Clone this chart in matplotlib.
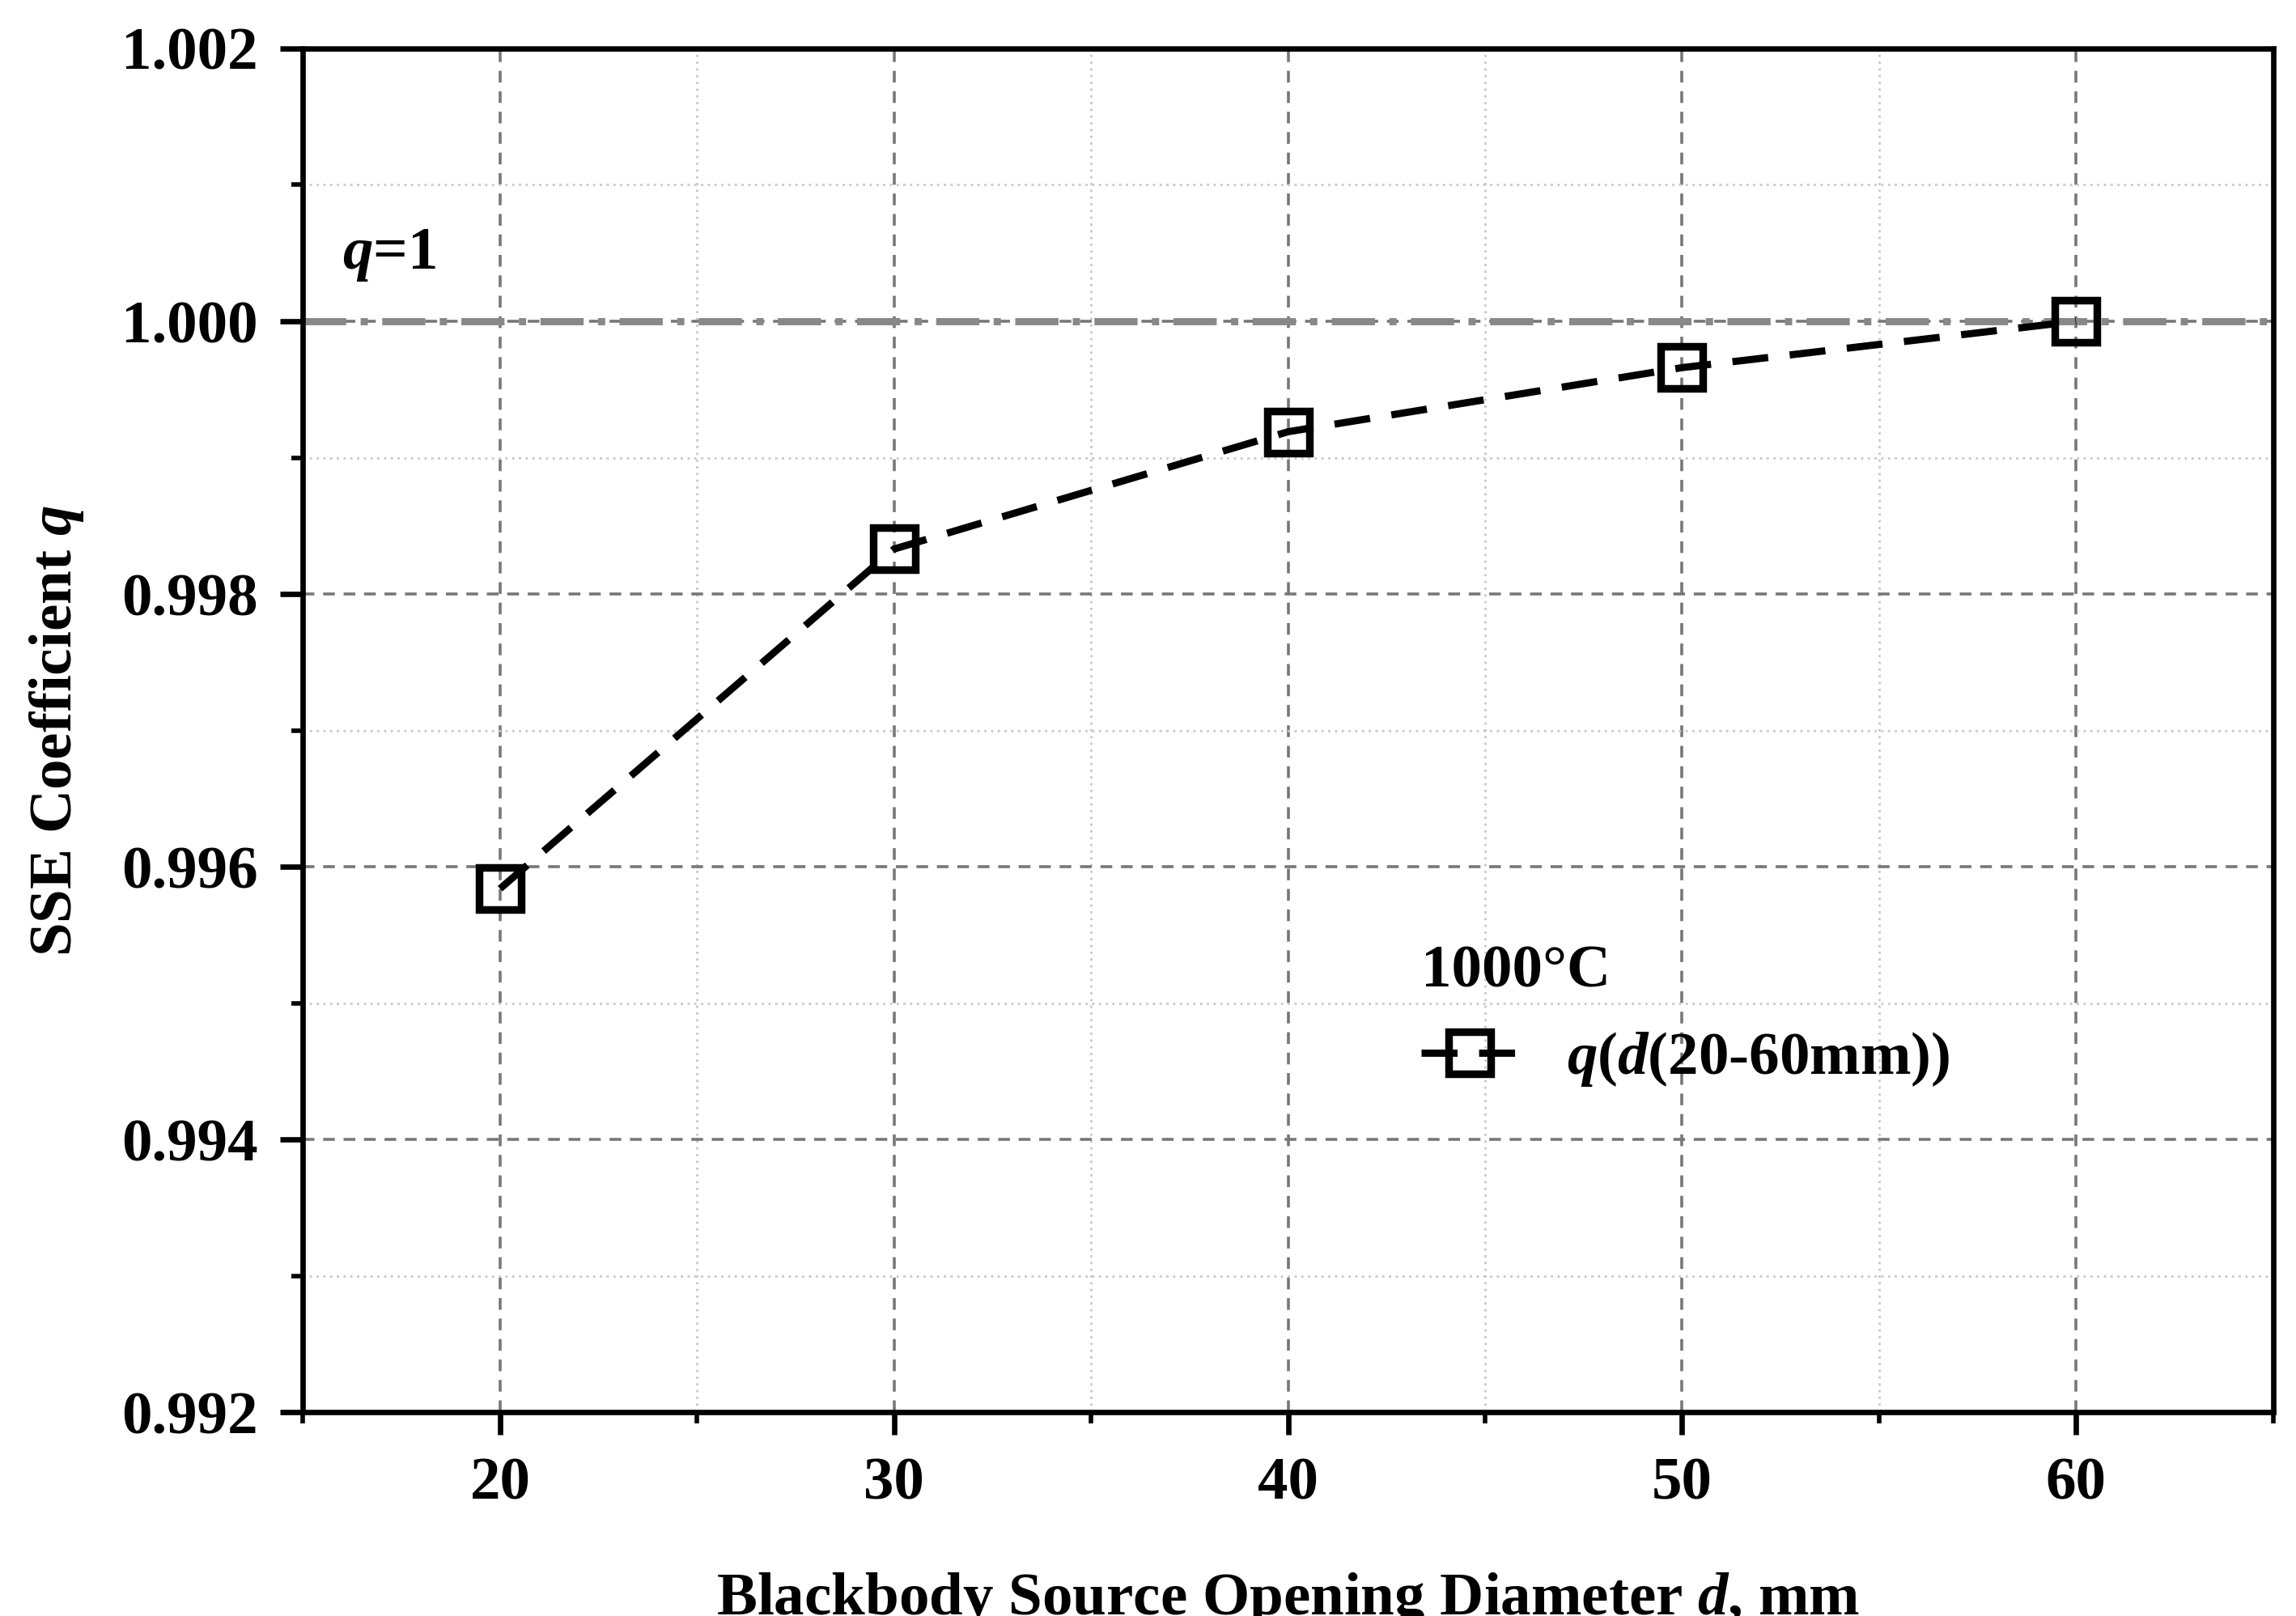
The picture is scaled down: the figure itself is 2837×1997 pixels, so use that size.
import matplotlib
matplotlib.use("Agg")
import matplotlib.pyplot as plt
from matplotlib.ticker import MultipleLocator

d = [20, 30, 40, 50, 60]
q = [0.99584, 0.99833, 0.99919, 0.99966, 1.00000]

plt.rcParams['font.family'] = ['Liberation Serif', 'DejaVu Serif']
plt.rcParams['font.weight'] = 'bold'
plt.rcParams['mathtext.fontset'] = 'custom'
plt.rcParams['mathtext.it'] = 'Liberation Serif:italic:bold'
plt.rcParams['mathtext.rm'] = 'Liberation Serif:bold'

FS = 27
fig = plt.figure(figsize=(14.185, 9.985), dpi=200)
ax = fig.add_axes([0.132, 0.126, 0.858, 0.844])
ax.set_xlim(15, 65)
ax.set_ylim(0.992, 1.002)
ax.xaxis.set_major_locator(MultipleLocator(10))
ax.xaxis.set_minor_locator(MultipleLocator(5))
ax.yaxis.set_major_locator(MultipleLocator(0.002))
ax.yaxis.set_minor_locator(MultipleLocator(0.001))
ax.yaxis.set_major_formatter(matplotlib.ticker.FormatStrFormatter('%.3f'))
ax.grid(which='major', color='#777777', linestyle=(0, (4, 3)), linewidth=1.3)
ax.grid(which='minor', color='#c8c8c8', linestyle=(0, (1, 2)), linewidth=1.0)
ax.set_axisbelow(True)
for s in ax.spines.values():
    s.set_linewidth(2.4)
ax.tick_params(which='major', direction='out', length=10, width=2.4, labelsize=FS, pad=10)
ax.tick_params(which='minor', direction='out', length=5, width=2.0)
ax.tick_params(axis='x', which='both', top=False)
ax.tick_params(axis='y', which='both', right=False)

ax.axhline(1.0, color='#888888', linestyle=(0, (6, 2, 1, 2)), linewidth=3.2, zorder=1)
ax.text(16.0, 1.00028, r'$q$=1', fontsize=FS, fontweight='bold', ha='left', va='bottom')

ax.plot(d, q, color='black', linestyle=(0, (5, 3)), linewidth=3.2,
        marker='s', markersize=19, markerfacecolor='none', markeredgewidth=3.4,
        markeredgecolor='black', label=r'$q\left(d\mathrm{(20\text{-}60mm)}\right)$', zorder=3)

leg = ax.legend(loc='center left', bbox_to_anchor=(0.54, 0.29), frameon=False,
                fontsize=FS, title='1000°C', title_fontsize=FS, handlelength=1.6,
                alignment='left')
leg.get_title().set_fontweight('bold')

ax.set_xlabel(r'Blackbody Source Opening Diameter $d$, mm', fontsize=FS, fontweight='bold', labelpad=26)
ax.set_ylabel(r'SSE Coefficient $q$', fontsize=FS, fontweight='bold', labelpad=16)

fig.savefig('out.png', dpi=200)
